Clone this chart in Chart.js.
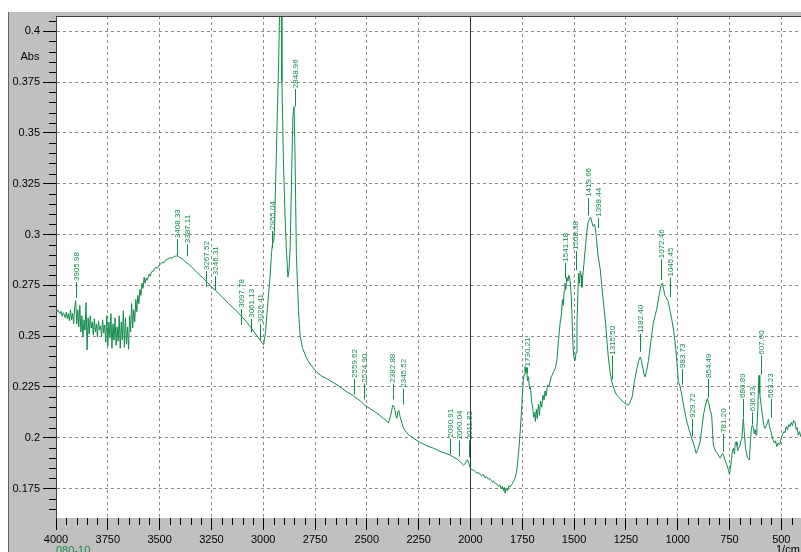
<!DOCTYPE html>
<html>
<head>
<meta charset="utf-8">
<script src="https://cdn.jsdelivr.net/npm/chart.js@4.4.1/dist/chart.umd.min.js"></script>
<style>
html,body{margin:0;padding:0;background:#fff;}
#wrap{width:801px;height:552px;position:relative;}
canvas{display:block;}
</style>
</head>
<body>
<div id="wrap"><canvas id="c" width="801" height="552"></canvas></div>
<script>
// ---- data ----
const wavenumbers = [
4000,3995,3990,3985,3980,3975,3970,3965,3960,3955,3950,3945,3940,3935,3930,3925,3920,3915,3910,3905,
3900,3895,3890,3885,3880,3875,3870,3865,3860,3855,3850,3845,3840,3835,3830,3825,3820,3815,3810,3805,
3800,3795,3790,3785,3780,3775,3770,3765,3760,3755,3750,3745,3740,3735,3730,3725,3720,3715,3710,3705,
3700,3695,3690,3685,3680,3675,3670,3665,3660,3655,3650,3645,3640,3635,3630,3625,3620,3615,3610,3605,
3600,3595,3590,3585,3580,3575,3570,3565,3560,3550,3545,3540,3530,3520,3510,3500,3490,3480,3470,3460,
3450,3440,3430,3420,3410,3400,3390,3380,3360,3340,3312,3290,3270,3248,3230,3200,3167,3130,3103,3080,
3054,3030,3014,3005,2998,2990,2982,2974,2966,2960,2955,2949,2945,2942,2934,2926,2921,2917,2913,2910,
2902,2895,2889,2881,2876,2870,2862,2857,2851,2846,2840,2830,2822,2810,2790,2773,2740,2720,2693,2660,
2628,2600,2570,2548,2530,2510,2484,2450,2420,2396,2385,2375,2367,2360,2355,2350,2346,2340,2330,2323,
2300,2275,2240,2210,2178,2140,2098,2080,2065,2050,2040,2034,2028,2020,2014,2008,2001,1990,1980,1970,
1962,1952,1945,1938,1930,1922,1915,1908,1900,1895,1889,1880,1872,1865,1858,1852,1846,1841,1836,1833,
1828,1822,1815,1808,1800,1793,1785,1778,1772,1766,1760,1755,1750,1745,1741,1737,1733,1729,1725,1720,
1715,1711,1705,1700,1695,1690,1687,1682,1678,1672,1667,1662,1656,1650,1645,1640,1635,1628,1622,1610,
1600,1590,1583,1575,1568,1562,1556,1552,1548,1544,1540,1535,1530,1525,1520,1515,1510,1505,1500,1495,
1490,1486,1482,1478,1474,1470,1466,1462,1458,1453,1447,1440,1432,1426,1420,1414,1408,1402,1398,1392,
1385,1374,1362,1350,1340,1334,1326,1318,1310,1300,1294,1285,1275,1268,1262,1255,1245,1238,1232,1226,
1220,1210,1197,1188,1181,1175,1168,1162,1157,1150,1141,1130,1117,1101,1090,1080,1074,1068,1061,1055,
1045,1038,1029,1020,1013,1005,997,990,980,970,956,945,932,920,911,902,892,884,876,866,
857,850,842,836,828,818,810,804,795,788,782,775,768,763,756,750,745,740,735,731,
726,722,718,714,710,707,700,695,690,686,683,679,674,670,663,657,654,649,645,640,
635,630,626,622,618,613,609,607,604,600,596,590,584,578,572,566,562,556,550,546,
540,534,528,522,515,510,506,500,494,488,482,476,470,464,458,452,446,440,434,428,
424,418,412,406,400];
const absorbance = [
0.2625,0.2620,0.2628,0.2615,0.2610,0.2622,0.2598,0.2615,0.2605,0.2590,0.2618,0.2585,0.2610,0.2575,0.2630,0.2580,0.2612,0.2560,0.2640,0.2675,
0.2560,0.2630,0.2545,0.2650,0.2520,0.2600,0.2495,0.2580,0.2530,0.2665,0.2432,0.2590,0.2510,0.2600,0.2540,0.2570,0.2505,0.2585,0.2520,0.2560,
0.2495,0.2575,0.2530,0.2550,0.2500,0.2580,0.2515,0.2555,0.2470,0.2600,0.2450,0.2570,0.2490,0.2610,0.2440,0.2560,0.2480,0.2590,0.2455,0.2545,
0.2475,0.2600,0.2440,0.2570,0.2480,0.2625,0.2445,0.2590,0.2460,0.2545,0.2435,0.2600,0.2520,0.2660,0.2540,0.2630,0.2570,0.2680,0.2620,0.2700,
0.2660,0.2730,0.2700,0.2760,0.2735,0.2790,0.2760,0.2785,0.2775,0.2805,0.2795,0.2815,0.2820,0.2838,0.2835,0.2850,0.2862,0.2860,0.2875,0.2880,
0.2885,0.2883,0.2890,0.2895,0.2893,0.2885,0.2880,0.2870,0.2853,0.2835,0.2805,0.2785,0.2765,0.2740,0.2725,0.2695,0.2660,0.2625,0.2595,0.2570,
0.2535,0.2500,0.2478,0.2465,0.2457,0.2510,0.2610,0.2710,0.2805,0.2910,0.2955,0.2970,0.3050,0.3180,0.3510,0.3835,0.4100,0.4300,0.4100,0.3750,
0.3340,0.3100,0.2940,0.2790,0.2820,0.2940,0.3340,0.3580,0.3630,0.3350,0.2900,0.2630,0.2500,0.2440,0.2390,0.2362,0.2320,0.2305,0.2290,0.2270,
0.2250,0.2228,0.2210,0.2193,0.2180,0.2160,0.2143,0.2120,0.2095,0.2073,0.2110,0.2160,0.2150,0.2110,0.2095,0.2130,0.2135,0.2105,0.2070,0.2046,
0.2015,0.1997,0.1975,0.1960,0.1948,0.1930,0.1915,0.1903,0.1895,0.1882,0.1870,0.1863,0.1868,0.1885,0.1892,0.1875,0.1850,0.1842,0.1838,0.1825,
0.1830,0.1817,0.1812,0.1820,0.1803,0.1808,0.1796,0.1800,0.1790,0.1782,0.1788,0.1775,0.1772,0.1760,0.1768,0.1748,0.1762,0.1740,0.1755,0.1727,
0.1752,0.1738,0.1762,0.1758,0.1770,0.1784,0.1800,0.1830,0.1880,0.1950,0.2030,0.2110,0.2200,0.2280,0.2310,0.2350,0.2320,0.2345,0.2280,0.2300,
0.2240,0.2250,0.2180,0.2150,0.2100,0.2125,0.2080,0.2140,0.2095,0.2165,0.2110,0.2180,0.2150,0.2210,0.2185,0.2230,0.2205,0.2260,0.2250,0.2300,
0.2320,0.2345,0.2380,0.2480,0.2560,0.2600,0.2680,0.2650,0.2720,0.2760,0.2730,0.2790,0.2770,0.2800,0.2780,0.2720,0.2600,0.2450,0.2390,0.2380,
0.2420,0.2560,0.2700,0.2810,0.2760,0.2820,0.2800,0.2740,0.2800,0.2850,0.2920,0.3000,0.3060,0.3075,0.3085,0.3060,0.3040,0.3050,0.3035,0.2980,
0.2900,0.2830,0.2700,0.2585,0.2460,0.2389,0.2320,0.2274,0.2250,0.2220,0.2209,0.2200,0.2190,0.2180,0.2176,0.2170,0.2163,0.2160,0.2170,0.2185,
0.2200,0.2270,0.2340,0.2380,0.2397,0.2380,0.2340,0.2310,0.2299,0.2330,0.2380,0.2470,0.2569,0.2634,0.2700,0.2750,0.2760,0.2730,0.2699,0.2690,
0.2667,0.2630,0.2585,0.2530,0.2471,0.2390,0.2275,0.2258,0.2210,0.2150,0.2078,0.2040,0.1997,0.1960,0.1923,0.1945,0.1980,0.2040,0.2111,0.2160,
0.2193,0.2170,0.2130,0.2111,0.1964,0.1935,0.1925,0.1915,0.1900,0.1915,0.1923,0.1900,0.1880,0.1866,0.1845,0.1820,0.1850,0.1900,0.1940,0.1948,
0.1920,0.1975,0.1980,0.1960,0.1935,0.1948,0.1960,0.1985,0.1997,0.2060,0.2095,0.2030,0.1960,0.1931,0.1900,0.1895,0.1890,0.1980,0.2040,0.2062,
0.2050,0.2020,0.2040,0.2013,0.2050,0.2150,0.2290,0.2307,0.2220,0.2180,0.2150,0.2100,0.2060,0.2046,0.2060,0.2080,0.2091,0.2050,0.2030,0.2013,
0.1990,0.1975,0.1985,0.1956,0.1975,0.1965,0.1972,0.2000,0.2015,0.2030,0.2025,0.2055,0.2040,0.2065,0.2055,0.2075,0.2060,0.2085,0.2078,0.2040,
0.2050,0.2013,0.2030,0.2005,0.2000];

const xTicks = [4000,3750,3500,3250,3000,2750,2500,2250,2000,1750,1500,1250,1000,750,500];
const yTicks = [0.175,0.2,0.225,0.25,0.275,0.3,0.325,0.35,0.375,0.4];

// peak annotations: label text, label wavenumber, Abs at text start, Abs at leader end
const peakLabels = ['3905.98','3408.33','3387.11','3267.52','3246.31','3097.78','3061.13','3026.41','2955.04','2848.96',
  '2559.62','2524.90','2382.88','2345.52','2090.91','2060.04','2011.82','1730.21','1541.18','1508.38',
  '1419.66','1398.44','1315.50','1182.40','1072.46','1045.45','983.73','929.72','854.49','781.20',
  '680.89','636.53','607.60','563.23'];
const peakLabelWn = [3903.5,3416,3368,3275,3231,3108,3059,3014,2958,2846,
  2560,2513,2376,2326,2098,2055,2006,1725,1543,1492,
  1431,1383,1315,1181,1080,1036,980,929,852,780,
  686,642,598,551];
const labelBaseAbs = [0.2771,0.2982,0.2957,0.2825,0.2800,0.2639,0.2590,0.2565,0.3022,0.3720,
  0.2294,0.2271,0.2271,0.2246,0.2000,0.1992,0.1992,0.2351,0.2866,0.2924,
  0.3185,0.3087,0.2408,0.2515,0.2883,0.2793,0.2343,0.2098,0.2294,0.2024,
  0.2196,0.2130,0.2408,0.2196];
const leaderEndAbs = [0.2688,0.2898,0.2893,0.2742,0.2727,0.2555,0.2516,0.2482,0.2933,0.3630,
  0.2212,0.2188,0.2188,0.2163,0.1918,0.1908,0.1903,0.2317,0.2786,0.2825,
  0.3095,0.3031,0.2286,0.2423,0.2776,0.2693,0.2261,0.2006,0.2196,0.1931,
  0.2099,0.2065,0.2310,0.2099];

const FONT = "'Liberation Sans', Arial, sans-serif";
const GREEN = '#138a4c';

const framePlugin = {
  id: 'frame',
  beforeDraw(chart) {
    const ctx = chart.ctx, a = chart.chartArea;
    ctx.save();
    ctx.fillStyle = '#ffffff';
    ctx.fillRect(0, 0, chart.width, chart.height);
    ctx.fillStyle = '#c0c0c0';
    ctx.fillRect(8, 12, chart.width - 8, chart.height - 12);
    ctx.fillStyle = '#ffffff';
    ctx.fillRect(a.left, a.top, a.right - a.left, a.bottom - a.top);
    ctx.strokeStyle = '#606060';
    ctx.lineWidth = 1;
    ctx.beginPath(); ctx.moveTo(8.5, 12); ctx.lineTo(8.5, chart.height); ctx.stroke();
    ctx.restore();
  },
  beforeDatasetsDraw(chart) {
    const ctx = chart.ctx, a = chart.chartArea, xs = chart.scales.x;
    const x = Math.round(xs.getPixelForValue(2000)) + 0.5;
    ctx.save();
    ctx.strokeStyle = '#303030';
    ctx.lineWidth = 1;
    ctx.beginPath(); ctx.moveTo(x, a.top); ctx.lineTo(x, a.bottom); ctx.stroke();
    ctx.restore();
  },
  afterDraw(chart) {
    const ctx = chart.ctx, a = chart.chartArea, xs = chart.scales.x, ys = chart.scales.y;
    ctx.save();
    // top border
    ctx.strokeStyle = '#404040'; ctx.lineWidth = 1;
    ctx.beginPath(); ctx.moveTo(a.left, a.top + 0.5); ctx.lineTo(a.right, a.top + 0.5); ctx.stroke();
    // minor ticks
    ctx.strokeStyle = '#000';
    ctx.beginPath();
    for (let w = 450; w <= 3950; w += 50) {
      if (w % 250 === 0) continue;
      const x = Math.round(xs.getPixelForValue(w)) + 0.5;
      ctx.moveTo(x, a.bottom); ctx.lineTo(x, a.bottom + 7);
    }
    for (let k = 33; k <= 81; k++) {
      if (k % 5 === 0) continue;
      const y = Math.round(ys.getPixelForValue(k * 0.005)) + 0.5;
      ctx.moveTo(a.left - 7, y); ctx.lineTo(a.left, y);
    }
    ctx.stroke();
    // peak labels
    ctx.beginPath();
    ctx.strokeStyle = GREEN;
    for (let i = 0; i < peakLabels.length; i++) {
      const x = Math.round(xs.getPixelForValue(peakLabelWn[i])) + 0.5;
      const y0 = ys.getPixelForValue(leaderEndAbs[i]);
      const y1 = ys.getPixelForValue(labelBaseAbs[i]);
      ctx.moveTo(x, y0); ctx.lineTo(x, y1 + 1);
    }
    ctx.stroke();
    ctx.fillStyle = GREEN;
    ctx.font = '8px ' + FONT;
    ctx.textAlign = 'left';
    ctx.textBaseline = 'middle';
    for (let i = 0; i < peakLabels.length; i++) {
      const x = xs.getPixelForValue(peakLabelWn[i]);
      const y = ys.getPixelForValue(labelBaseAbs[i]);
      ctx.save();
      ctx.translate(x, y);
      ctx.rotate(-Math.PI / 2);
      ctx.fillText(peakLabels[i], 0, 0.5);
      ctx.restore();
    }
    // axis texts
    ctx.font = '11px ' + FONT;
    ctx.fillStyle = '#000';
    ctx.textAlign = 'center';
    ctx.textBaseline = 'middle';
    ctx.fillText('Abs', 30, 57);
    ctx.textAlign = 'left';
    ctx.textBaseline = 'alphabetic';
    ctx.fillText('1/cm', 776, 553);
    ctx.fillStyle = GREEN;
    ctx.fillText('080-10', 56, 554);
    ctx.restore();
  }
};

const points = wavenumbers.map((w, i) => ({ x: w, y: absorbance[i] }));

new Chart(document.getElementById('c'), {
  type: 'line',
  data: {
    datasets: [{
      data: points,
      borderColor: GREEN,
      borderWidth: 1,
      pointRadius: 0,
      tension: 0,
      fill: false
    }]
  },
  options: {
    responsive: false,
    animation: false,
    devicePixelRatio: 1,
    layout: { padding: { top: 16, left: 0, right: 0, bottom: 0 } },
    plugins: { legend: { display: false }, tooltip: { enabled: false } },
    scales: {
      x: {
        type: 'linear',
        reverse: true,
        min: 405,
        max: 4000,
        afterBuildTicks: s => { s.ticks = xTicks.map(v => ({ value: v })); },
        afterFit: s => { s.height = 34; },
        grid: { color: '#8c8c8c', tickColor: '#000', tickLength: 12, lineWidth: 1 },
        border: { display: false, dash: [3, 3] },
        ticks: { color: '#000', font: { family: FONT, size: 11 }, padding: 3, maxRotation: 0, autoSkip: false,
                 callback: v => String(v) }
      },
      y: {
        min: 0.1605,
        max: 0.4075,
        afterBuildTicks: s => { s.ticks = yTicks.map(v => ({ value: v })); },
        afterFit: s => { s.width = 56; },
        grid: { color: '#8c8c8c', tickColor: '#000', tickLength: 13, lineWidth: 1 },
        border: { display: true, color: '#404040', width: 1, dash: [3, 3] },
        ticks: { color: '#000', font: { family: FONT, size: 11 }, padding: 3, autoSkip: false,
                 callback: v => String(+v.toFixed(3)) }
      }
    }
  },
  plugins: [framePlugin]
});
</script>
</body>
</html>
